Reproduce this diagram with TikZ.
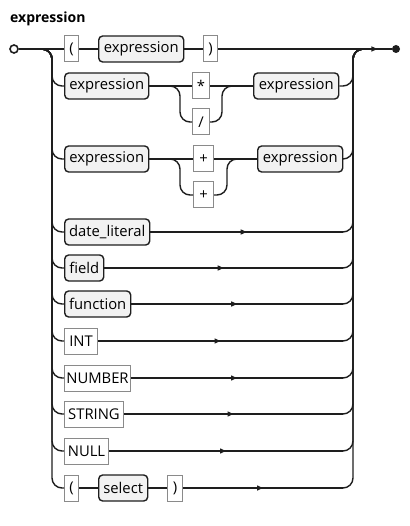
\documentclass[tikz,border=0pt]{standalone}
\usepackage{fontspec}
\setmainfont{Open Sans}
\usetikzlibrary{arrows.meta,decorations.markings,calc}
\definecolor{ln}{HTML}{1E1E1E}
\definecolor{termgray}{HTML}{8A8A8A}
\definecolor{boxfill}{HTML}{F2F2F2}
\begin{document}
\begin{tikzpicture}[x=1pt,y=-1pt,
  boxfont/.style={font=\fontsize{14.8}{16}\selectfont},
  term/.style={boxfont, draw=termgray, line width=1pt, fill=white, minimum height=26pt, inner sep=0pt, anchor=west, text=black},
  nont/.style={boxfont, draw=ln, line width=1.4pt, fill=boxfill, rounded corners=4pt, minimum height=26pt, inner sep=0pt, anchor=west, text=black},
  line/.style={draw=ln, line width=1.4pt},
  rail/.style={line, rounded corners=10pt},
  midarrow/.style={postaction={decorate}, decoration={markings, mark=at position 0.5 with {\arrow[ln]{Triangle[length=6pt,width=5pt]}}}}
]
\useasboundingbox (0,0) rectangle (409,526);
\node[anchor=base west, font=\fontsize{14}{16}\selectfont\bfseries, inner sep=0pt] (title) at (10,23) {expression};

% rail coordinates
\coordinate (Lin) at (42,49);
\coordinate (L) at (52,49);
\coordinate (Rin) at (343,49);
\coordinate (R) at (353,49);
\coordinate (Rout) at (363,49);

% start / end
\node[circle, draw=ln, line width=1.6pt, fill=white, minimum size=8pt, inner sep=0pt] (s) at (14,49) {};
\node[circle, fill=ln, minimum size=8pt, inner sep=0pt] (e) at (396,49) {};

% row 1
\node[term, minimum width=14pt] (lpA) at (64,49) {(};
\node[nont, minimum width=85pt] (eA) at (98,49) {expression};
\node[term, minimum width=14pt] (rpA) at (203,49) {)};
% row 2
\node[nont, minimum width=84pt] (eB1) at (64,86) {expression};
\node[term, minimum width=17pt] (star) at (192,86) {*};
\node[term, minimum width=17pt] (slash) at (192,122) {/};
\node[nont, minimum width=85pt] (eB2) at (253,86) {expression};
% row 3
\node[nont, minimum width=84pt] (eC1) at (64,159) {expression};
\node[term, minimum width=20pt] (plusA) at (193,159) {+};
\node[term, minimum width=20pt] (plusB) at (193,195) {+};
\node[nont, minimum width=85pt] (eC2) at (257,159) {expression};
% rows 4-10
\node[nont, minimum width=85pt] (dl) at (64,232) {date\_literal};
\node[nont, minimum width=39pt] (fld) at (64,268) {field};
\node[nont, minimum width=66pt] (fn) at (64,304) {function};
\node[term, minimum width=33pt] (int) at (64,341) {INT};
\node[term, minimum width=66pt] (num) at (64,378) {NUMBER};
\node[term, minimum width=59pt] (str) at (64,414) {STRING};
\node[term, minimum width=44pt] (nul) at (64,451) {NULL};
% row 11
\node[term, minimum width=14pt] (lpK) at (64,488) {(};
\node[nont, minimum width=49pt] (sel) at (98,488) {select};
\node[term, minimum width=15pt] (rpK) at (167,488) {)};

% fork / join coordinates
\coordinate (fB) at (170,86);
\coordinate (vB) at (180,86);
\coordinate (jB) at (222,86);
\coordinate (fC) at (170,159);
\coordinate (vC) at (180,159);
\coordinate (jC) at (227,159);

% main line
\draw[line] (s) -- (lpA);
\draw[line] (lpA) -- (eA);
\draw[line] (eA) -- (rpA);
\draw[line] (rpA) -- (e);
\draw[line, midarrow] (Rout) -- (e);

% left rails
\foreach \n in {eB1,eC1,dl,fld,fn,int,num,str,nul,lpK}
  \draw[rail] (Lin) -| (L |- \n) -- (\n.west);

% row 2
\draw[line] (eB1) -- (star);
\draw[line] (star) -- (eB2);
\draw[rail] (fB) -- (vB) |- (slash.west);
\draw[rail] (slash.east) -| (jB) -- (eB2.west);
% row 3
\draw[line] (eC1) -- (plusA);
\draw[line] (plusA) -- (eC2);
\draw[rail] (fC) -- (vC) |- (plusB.west);
\draw[rail] (plusB.east) -| (jC) -- (eC2.west);
% row 11
\draw[line] (lpK) -- (sel);
\draw[line] (sel) -- (rpK);

% arrows for simple rows
\foreach \n in {dl,fld,fn,int,num,str,nul,rpK}
  \draw[line, midarrow] (\n.east) -- (\n.east -| Rin);

% right rails
\foreach \n in {eB2,eC2,dl,fld,fn,int,num,str,nul,rpK}
  \draw[rail] (\n.east) -| (R) -- (Rout);
\end{tikzpicture}
\end{document}
